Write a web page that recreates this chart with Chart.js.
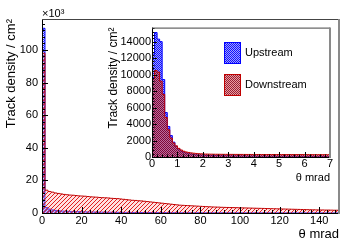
<!DOCTYPE html>
<html>
<head>
<meta charset="utf-8">
<script src="https://cdn.jsdelivr.net/npm/chart.js@4.4.0/dist/chart.umd.min.js"></script>
<style>
  html, body { margin: 0; padding: 0; background: #fff; }
  #wrap { position: relative; width: 357px; height: 242px; }
  #mainChart { position: absolute; left: 0; top: 0; }
  #insetChart { position: absolute; left: 100px; top: 20px; }
</style>
</head>
<body>
<div id="wrap">
  <canvas id="mainChart" width="357" height="242"></canvas>
  <canvas id="insetChart" width="240" height="170"></canvas>
</div>
<script>
// main plot: 100 bins of 1.5 mrad, 0 - 150 mrad
const mainBinWidth = 1.5;
const mainUp = [
  113300, 3300, 2400, 1900, 1600, 1400, 1250, 1150, 1050, 980,
  920, 860, 800, 760, 720, 680, 640, 610, 580, 550,
  520, 500, 480, 460, 440, 420, 400, 385, 370, 355,
  340, 330, 320, 310, 300, 290, 280, 270, 262, 255,
  248, 240, 232, 225, 218, 212, 206, 200, 195, 190,
  185, 180, 176, 172, 168, 164, 160, 156, 152, 148,
  145, 142, 139, 136, 133, 130, 127, 124, 121, 118,
  116, 114, 112, 110, 108, 106, 104, 102, 100, 98,
  96, 94, 92, 90, 88, 86, 85, 84, 83, 82,
  81, 80, 79, 78, 77, 76, 75, 74, 73, 72
];
const mainDown = [
  98000, 14000, 13200, 12800, 12300, 12000, 11700, 11400, 11200, 11000,
  10900, 10700, 10500, 10400, 10300, 10100, 9900, 9800, 9700, 9500,
  9400, 9300, 9200, 9000, 8900, 8800, 8600, 8400, 8200, 8000,
  7800, 7700, 7500, 7400, 7200, 7000, 6800, 6600, 6400, 6200,
  6000, 5800, 5600, 5400, 5200, 5000, 4800, 4700, 4600, 4500,
  4400, 4300, 4200, 4100, 4000, 3900, 3800, 3700, 3650, 3600,
  3500, 3450, 3400, 3350, 3300, 3250, 3200, 3150, 3100, 3050,
  3000, 2950, 2900, 2850, 2800, 2750, 2700, 2650, 2600, 2550,
  2500, 2450, 2400, 2350, 2300, 2250, 2200, 2150, 2100, 2050,
  2000, 1950, 1900, 1850, 1850, 1800, 1800, 1750, 1700, 1700
];
const mainXTickVals = [0, 20, 40, 60, 80, 100, 120, 140];
const mainYTickVals = [0, 20000, 40000, 60000, 80000, 100000];
const mainXRange = { min: 0, max: 150, step: 20, minor: 4 };
const mainYRange = { min: 0, max: 119000, step: 20000, minor: 4000 };

// inset: 70 bins of 0.1 mrad, 0 - 7 mrad
const insetBinWidth = 0.1;
const insetUp = [
  12500, 15100, 14300, 14000, 9400, 5400, 3700, 2600, 1800, 1300,
  950, 730, 580, 470, 400, 340, 300, 265, 240, 220,
  205, 195, 185, 178, 170, 164, 158, 152, 147, 142,
  138, 134, 130, 127, 124, 121, 118, 116, 114, 112,
  110, 108, 106, 104, 102, 100, 99, 98, 97, 96,
  95, 94, 93, 92, 91, 90, 89, 88, 88, 87,
  86, 86, 85, 85, 84, 84, 83, 83, 82, 82
];
const insetDown = [
  9500, 10500, 10300, 9200, 7600, 4800, 3300, 2300, 1700, 1350,
  1050, 850, 700, 610, 550, 500, 460, 430, 400, 380,
  365, 355, 348, 342, 337, 333, 330, 327, 324, 322,
  320, 318, 316, 314, 312, 311, 310, 309, 308, 307,
  306, 305, 304, 303, 302, 301, 300, 300, 299, 298,
  297, 296, 296, 295, 294, 293, 293, 292, 291, 291,
  290, 290, 289, 288, 288, 287, 287, 286, 286, 285
];
const insetXTickVals = [0, 1, 2, 3, 4, 5, 6, 7];
const insetYTickVals = [0, 2000, 4000, 6000, 8000, 10000, 12000, 14000];
const insetXRange = { min: 0, max: 7, step: 1, minor: 0.2 };
const insetYRange = { min: 0, max: 15700, step: 2000, minor: 400 };

const seriesNames = ['Upstream', 'Downstream'];

const FONT = '"Liberation Sans", Arial, sans-serif';
Chart.defaults.font.family = FONT;
Chart.defaults.color = '#000';

// histogram outline as points for a stepped line
function histPoints(binW, vals) {
  const pts = [{ x: 0, y: 0 }];
  vals.forEach((v, i) => pts.push({ x: i * binW, y: v }));
  const end = vals.length * binW;
  pts.push({ x: end, y: vals[vals.length - 1] });
  pts.push({ x: end, y: 0 });
  return pts;
}

function makePattern(size, paint) {
  const c = document.createElement('canvas');
  c.width = size; c.height = size;
  const g = c.getContext('2d');
  paint(g);
  return g.createPattern(c, 'repeat');
}

const blueCheck = makePattern(2, g => {
  g.fillStyle = 'rgba(0,0,255,0.12)'; g.fillRect(0, 0, 2, 2);
  g.fillStyle = '#2a2aff'; g.fillRect(0, 0, 1, 1); g.fillRect(1, 1, 1, 1);
});
const redHatch = makePattern(4, g => {
  g.fillStyle = 'rgba(255,170,170,0.35)'; g.fillRect(0, 0, 4, 4);
  g.fillStyle = '#e02020';
  for (let i = 0; i < 4; i++) g.fillRect(i, 3 - i, 1, 1);
});
const blueInset = makePattern(2, g => {
  g.fillStyle = 'rgba(40,40,255,0.45)'; g.fillRect(0, 0, 2, 2);
  g.fillStyle = 'rgba(0,0,255,0.9)'; g.fillRect(0, 0, 1, 1); g.fillRect(1, 1, 1, 1);
});
const redInset = makePattern(2, g => {
  g.fillStyle = 'rgba(215,60,60,0.5)'; g.fillRect(0, 0, 2, 2);
  g.fillStyle = 'rgba(130,0,30,0.8)'; g.fillRect(0, 0, 1, 1); g.fillRect(1, 1, 1, 1);
});

// ROOT-like frame with inward tick marks
const rootFrame = {
  id: 'rootFrame',
  afterDatasetsDraw(chart, args, o) {
    const { ctx, chartArea: a, scales: { x, y } } = chart;
    ctx.save();
    ctx.strokeStyle = '#000';
    ctx.lineWidth = 1;
    ctx.beginPath();
    const isMajor = (v, step) => Math.abs(v / step - Math.round(v / step)) < 1e-6;
    for (let k = 0; ; k++) {
      const v = o.x.min + k * o.x.minor;
      if (v > o.x.max + 1e-9) break;
      const px = Math.round(x.getPixelForValue(v)) + 0.5;
      const len = isMajor(v, o.x.step) ? o.major : o.minor;
      ctx.moveTo(px, a.bottom); ctx.lineTo(px, a.bottom - len);
    }
    for (let k = 0; ; k++) {
      const v = o.y.min + k * o.y.minor;
      if (v > o.y.max + 1e-9) break;
      const py = Math.round(y.getPixelForValue(v)) + 0.5;
      const len = isMajor(v, o.y.step) ? o.major : o.minor;
      ctx.moveTo(a.left, py); ctx.lineTo(a.left + len, py);
    }
    // axes
    ctx.moveTo(a.left + 0.5, a.top); ctx.lineTo(a.left + 0.5, a.bottom);
    ctx.moveTo(a.left, a.bottom + 0.5); ctx.lineTo(a.right, a.bottom + 0.5);
    ctx.stroke();
    ctx.strokeStyle = '#444';
    ctx.beginPath();
    ctx.moveTo(a.left, a.top + 0.5); ctx.lineTo(a.right, a.top + 0.5);
    ctx.stroke();
    ctx.strokeStyle = '#8a8a8a';
    ctx.lineWidth = 2;
    ctx.beginPath();
    ctx.moveTo(a.right, a.top); ctx.lineTo(a.right, a.bottom + 1);
    ctx.stroke();
    if (o.exponent) {
      ctx.fillStyle = '#000';
      ctx.font = '11px ' + FONT;
      ctx.textAlign = 'left';
      ctx.textBaseline = 'alphabetic';
      ctx.fillText(o.exponent, a.left, a.top - 2);
    }
    ctx.restore();
  }
};

// legend with tall pattern boxes, drawn inside the inset
const boxLegend = {
  id: 'boxLegend',
  afterDraw(chart, args, o) {
    if (!o.show) return;
    const ctx = chart.ctx;
    ctx.save();
    chart.data.datasets.forEach((ds, i) => {
      const bx = o.x, by = o.y + i * o.gap;
      ctx.fillStyle = '#fff';
      ctx.fillRect(bx, by, o.w, o.h);
      ctx.fillStyle = ds.backgroundColor;
      ctx.fillRect(bx, by, o.w, o.h);
      ctx.strokeStyle = ds.borderColor;
      ctx.lineWidth = 1;
      ctx.strokeRect(bx + 0.5, by + 0.5, o.w - 1, o.h - 1);
      ctx.fillStyle = '#000';
      ctx.font = '11px ' + FONT;
      ctx.textBaseline = 'middle';
      ctx.fillText(ds.label, bx + o.w + 4, by + o.h / 2);
    });
    ctx.restore();
  }
};

function histChart(canvasId, cfg) {
  return new Chart(document.getElementById(canvasId), {
    type: 'line',
    data: {
      datasets: [
        { label: seriesNames[0], data: histPoints(cfg.binW, cfg.up), order: 2,
          borderColor: '#0000ff', borderWidth: 1, backgroundColor: cfg.upFill,
          fill: 'origin', stepped: true, pointRadius: 0 },
        { label: seriesNames[1], data: histPoints(cfg.binW, cfg.down), order: 1,
          borderColor: '#c00000', borderWidth: 1, backgroundColor: cfg.downFill,
          fill: 'origin', stepped: true, pointRadius: 0 }
      ]
    },
    options: {
      responsive: false,
      animation: false,
      events: [],
      layout: { padding: cfg.padding },
      plugins: {
        legend: { display: false },
        tooltip: { enabled: false },
        rootFrame: { x: cfg.xr, y: cfg.yr, major: cfg.major, minor: cfg.minor, exponent: cfg.exponent },
        boxLegend: cfg.legend || { show: false }
      },
      scales: {
        x: {
          type: 'linear', min: cfg.xr.min, max: cfg.xr.max,
          grid: { display: false, drawTicks: false }, border: { display: false },
          afterBuildTicks: s => { s.ticks = cfg.xTicks.map(v => ({ value: v })); },
          ticks: { maxRotation: 0, autoSkip: false, padding: cfg.xPad, font: { size: 11 } },
          title: { display: true, text: 'θ mrad', align: 'end',
                   font: { size: cfg.xTitleSize }, padding: { top: 0, bottom: cfg.xTitlePad } },
          afterFit: s => { s.height = cfg.xHeight; }
        },
        y: {
          min: cfg.yr.min, max: cfg.yr.max,
          grid: { display: false, drawTicks: false }, border: { display: false },
          afterBuildTicks: s => { s.ticks = cfg.yTicks.map(v => ({ value: v })); },
          ticks: { autoSkip: false, padding: cfg.yPad, font: { size: 11 }, callback: cfg.yLabel },
          title: { display: true, text: 'Track density / cm²', align: 'end',
                   font: { size: cfg.yTitleSize }, padding: { top: cfg.yTitlePad, bottom: 0 } },
          afterFit: s => { s.width = cfg.yWidth; }
        }
      }
    },
    plugins: [rootFrame, boxLegend]
  });
}

histChart('mainChart', {
  binW: mainBinWidth, up: mainUp, down: mainDown,
  upFill: blueCheck, downFill: redHatch,
  xr: mainXRange, yr: mainYRange, xTicks: mainXTickVals, yTicks: mainYTickVals,
  major: 6, minor: 3,
  padding: { left: 0, right: 18, top: 19, bottom: 0 },
  xHeight: 29, yWidth: 42, xPad: 1, yPad: 4,
  xTitleSize: 13, xTitlePad: 0, yTitleSize: 13, yTitlePad: 4,
  yLabel: v => String(v / 1000),
  exponent: '×10³'
});

histChart('insetChart', {
  binW: insetBinWidth, up: insetUp, down: insetDown,
  upFill: blueInset, downFill: redInset,
  xr: insetXRange, yr: insetYRange, xTicks: insetXTickVals, yTicks: insetYTickVals,
  major: 5, minor: 2.5,
  padding: { left: 0, right: 10, top: 4, bottom: 0 },
  xHeight: 33, yWidth: 52, xPad: 0, yPad: 1,
  xTitleSize: 11, xTitlePad: 5, yTitleSize: 12, yTitlePad: 6,
  yLabel: v => String(v),
  legend: { show: true, x: 124, y: 22, w: 17, h: 22, gap: 32 }
});
</script>
</body>
</html>
